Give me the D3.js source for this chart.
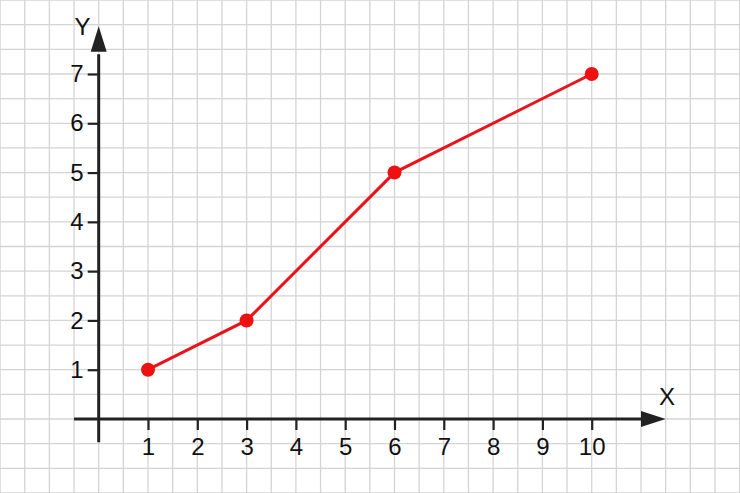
<!DOCTYPE html>
<html><head><meta charset="utf-8">
<script src="https://cdn.jsdelivr.net/npm/d3@7"></script>
<style>html,body{margin:0;padding:0;background:#fff;overflow:hidden}</style>
</head><body>
<svg id="c" width="740" height="493"></svg>
<script>
const xValues = [1, 3, 6, 10];
const yValues = [1, 2, 5, 7];
const xTicks = [1, 2, 3, 4, 5, 6, 7, 8, 9, 10];
const yTicks = [1, 2, 3, 4, 5, 6, 7];
const xLabel = "X";
const yLabel = "Y";

const W = 740, H = 493;
const FONT = "Liberation Sans, Arial, sans-serif";
const svg = d3.select("#c");
const x = d3.scaleLinear().domain([0, 10]).range([98.7, 591.7]);
const y = d3.scaleLinear().domain([0, 7]).range([419, 74]);

// background grid at half-unit spacing
const gx = d3.range(-4, 14.01, 0.5);
const gy = d3.range(-3, 9.01, 0.5);
const grid = svg.append("g").attr("stroke", "#d4d4d4").attr("stroke-width", 1.3);
grid.selectAll("line.v").data(gx).join("line")
  .attr("x1", d => x(d)).attr("x2", d => x(d)).attr("y1", 0).attr("y2", H);
grid.selectAll("line.h").data(gy).join("line")
  .attr("y1", d => y(d)).attr("y2", d => y(d)).attr("x1", 0).attr("x2", W);

const axisColor = "#222";
// X axis
const xAxis = d3.axisBottom(x).tickValues(xTicks).tickFormat(d3.format("d")).tickSize(11).tickPadding(8);
const gX = svg.append("g").attr("transform", `translate(0,${y(0)})`).call(xAxis)
  .attr("font-size", 24).attr("font-family", FONT);
gX.select(".domain").remove();
gX.selectAll(".tick line").attr("stroke", axisColor).attr("stroke-width", 2.2);
gX.selectAll(".tick text").attr("fill", "#111");

// Y axis
const yAxis = d3.axisLeft(y).tickValues(yTicks).tickFormat(d3.format("d")).tickSize(11).tickPadding(4);
const gY = svg.append("g").attr("transform", `translate(${x(0)},0)`).call(yAxis)
  .attr("font-size", 24).attr("font-family", FONT);
gY.select(".domain").remove();
gY.selectAll(".tick line").attr("stroke", axisColor).attr("stroke-width", 2.2);
gY.selectAll(".tick text").attr("fill", "#111");

svg.append("line").attr("x1", x(-0.5)).attr("x2", x(11.1)).attr("y1", y(0)).attr("y2", y(0))
  .attr("stroke", axisColor).attr("stroke-width", 3);
svg.append("path").attr("fill", axisColor)
  .attr("d", `M${x(11.0)},${y(0) - 8}L${x(11.5)},${y(0)}L${x(11.0)},${y(0) + 8}Z`);
svg.append("line").attr("x1", x(0)).attr("x2", x(0)).attr("y1", y(-0.47)).attr("y2", y(7.4))
  .attr("stroke", axisColor).attr("stroke-width", 3);
svg.append("path").attr("fill", axisColor)
  .attr("d", `M${x(0) - 8},${y(7.45)}L${x(0)},${y(7.97)}L${x(0) + 8},${y(7.45)}Z`);

// axis titles
svg.append("text").text(xLabel).attr("x", x(11.53)).attr("y", y(0.29)).attr("text-anchor", "middle")
  .attr("fill", "#111").attr("font-family", FONT).attr("font-size", 24);
svg.append("text").text(yLabel).attr("x", x(-0.33)).attr("y", y(7.79)).attr("text-anchor", "middle")
  .attr("fill", "#111").attr("font-family", FONT).attr("font-size", 24);

// data
const data = xValues.map((v, i) => ({ x: v, y: yValues[i] }));
svg.append("path").datum(data)
  .attr("fill", "none").attr("stroke", "#e8141b").attr("stroke-width", 3)
  .attr("d", d3.line().x(d => x(d.x)).y(d => y(d.y)));
svg.selectAll("circle.pt").data(data).join("circle")
  .attr("cx", d => x(d.x)).attr("cy", d => y(d.y)).attr("r", 7).attr("fill", "#ee1111");
</script>
</body></html>
